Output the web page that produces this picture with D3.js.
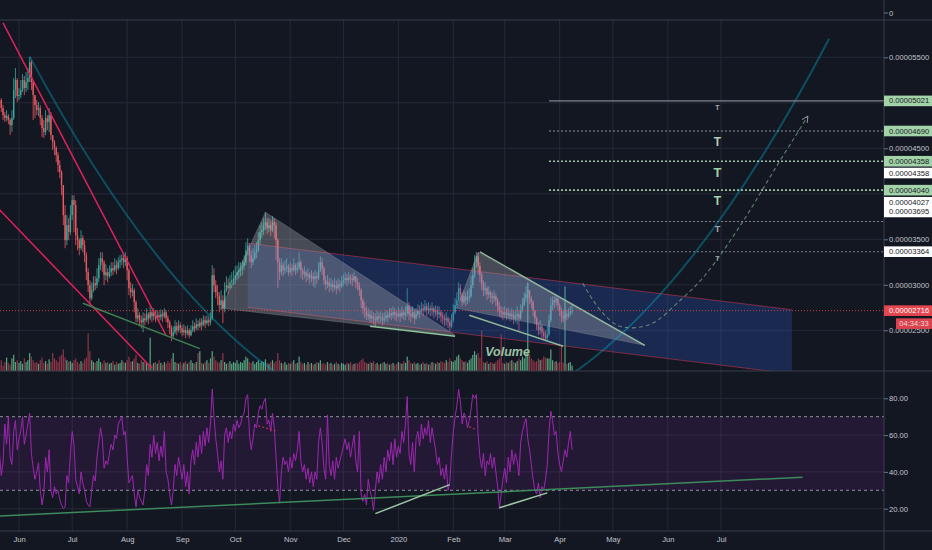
<!DOCTYPE html>
<html><head><meta charset="utf-8">
<script src="https://cdn.jsdelivr.net/npm/d3@7"></script>
<style>
html,body{margin:0;padding:0;background:#131722;overflow:hidden;}
svg{display:block;}
text{font-family:"Liberation Sans",Arial,sans-serif;}
</style></head><body>
<svg id="c" width="932" height="550"></svg>
<script>
// ---------------- DATA ----------------
const startDate = "2019-05-21";   // first daily candle
const firstOpen = 4990;           // prices in 1e-8 units
const closes = [
 5030,4942,4865,4832,4854,4810,4755,4832,5140,5250,5074,
 5085,5140,5250,5162,5228,5272,5448,5228,5085,4975,
 4920,4942,4832,4722,4678,4832,4788,4865,4645,4568,
 4502,4425,4315,4238,4095,3765,3490,3655,3578,3765,
 3930,3875,3545,3490,3402,3512,3435,3325,3138,2995,
 2852,2940,3017,2995,3072,3215,3292,3248,3105,3138,
 3094,3138,3182,3160,3215,3182,3248,3270,3292,3248,
 3292,3160,2962,2918,2940,2808,2632,2665,2610,2588,
 2632,2610,2676,2632,2698,2654,2687,2632,2665,2643,
 2676,2654,2698,2632,2588,2522,2434,2478,2544,2500,
 2555,2522,2478,2500,2467,2500,2445,2500,2544,2522,
 2566,2544,2588,2555,2610,2577,2610,2588,2632,3105,
 2995,2918,2874,2775,2830,2742,2940,2995,2962,3028,
 3050,3072,3105,3138,3160,3182,3204,3248,3380,3435,
 3325,3248,3292,3358,3380,3490,3578,3600,3655,3688,
 3622,3655,3600,3688,3655,3490,3248,3138,3215,3160,
 3182,3204,3138,3182,3160,3215,3160,3182,3248,3160,
 3116,3138,3094,3116,3072,3094,3061,3094,3072,3160,
 3248,3182,3050,3006,3028,2984,3006,2973,2995,2962,
 3006,2984,3028,3050,3072,3050,3083,3072,3050,3094,
 3028,2995,2940,2830,2742,2720,2654,2676,2632,2654,
 2621,2610,2654,2632,2643,2610,2632,2665,2643,2687,
 2665,2698,2676,2654,2687,2654,2698,2665,2687,2764,
 2676,2654,2698,2632,2676,2720,2698,2742,2720,2764,
 2720,2742,2720,2742,2698,2720,2676,2698,2654,2632,
 2610,2632,2588,2544,2610,2698,2775,2830,2962,2896,
 2808,2874,2830,2863,2874,2995,3105,3248,3314,3204,
 3105,3006,2940,2962,2896,2918,2874,2852,2874,2830,
 2764,2720,2698,2676,2698,2665,2687,2654,2676,2632,
 2654,2676,2632,2720,2775,2852,2896,2940,2852,2808,
 2720,2632,2555,2500,2544,2478,2434,2412,2456,2610,
 2775,2830,2808,2852,2775,2720,2654,2632,2676,2654,
 2687,2709,2716
];
const highs = [
 5140,5052,4975,4898,4920,4876,4832,4920,5272,5382,5272,
 5162,5250,5316,5294,5338,5382,5503,5470,5250,5085,
 5030,5008,4975,4865,4810,4920,4865,4942,4898,4645,
 4590,4524,4458,4370,4260,4095,3875,3765,3732,3875,
 3985,3985,3930,3622,3512,3600,3545,3490,3358,3182,
 3050,3028,3094,3094,3182,3292,3358,3358,3270,3226,
 3182,3215,3248,3248,3292,3270,3303,3325,3336,3325,
 3358,3314,3182,3028,3006,2962,2830,2742,2698,2665,
 2698,2687,2742,2698,2764,2720,2742,2720,2720,2709,
 2731,2720,2742,2720,2665,2610,2555,2544,2610,2588,
 2610,2588,2555,2566,2544,2555,2522,2555,2610,2588,
 2632,2610,2632,2632,2665,2654,2665,2654,2698,3215,
 3182,3050,2995,2918,2940,2885,3028,3094,3072,3105,
 3138,3160,3204,3215,3248,3248,3270,3325,3468,3512,
 3457,3380,3402,3435,3468,3578,3655,3688,3732,3798,
 3732,3732,3710,3754,3732,3688,3512,3292,3292,3248,
 3270,3292,3226,3248,3226,3292,3237,3248,3358,3270,
 3182,3204,3160,3182,3138,3160,3138,3160,3138,3248,
 3314,3292,3204,3094,3105,3072,3072,3050,3072,3050,
 3072,3050,3094,3116,3138,3116,3138,3116,3116,3138,
 3094,3072,3028,2962,2852,2808,2764,2742,2720,2720,
 2698,2687,2720,2698,2709,2687,2698,2720,2709,2742,
 2742,2764,2742,2720,2753,2720,2764,2731,2764,2962,
 2808,2742,2764,2720,2742,2786,2775,2808,2786,2830,
 2797,2808,2775,2808,2764,2775,2764,2764,2720,2698,
 2676,2698,2654,2632,2676,2786,2852,2918,3028,3006,
 2918,2940,2918,2940,2962,3094,3182,3325,3358,3358,
 3248,3138,3050,3028,2984,2984,2940,2918,2940,2907,
 2852,2808,2764,2753,2764,2742,2753,2720,2742,2720,
 2720,2764,2720,2786,2852,2918,2984,3028,2940,2874,
 2830,2720,2654,2588,2610,2566,2522,2500,2544,2676,
 2863,2874,2874,2896,2852,2797,2742,2720,2742,2720,
 2742,2764,2775
];
const lows = [
 4942,4898,4810,4788,4799,4766,4645,4678,4810,5052,5008,
 5030,5052,5118,5085,5118,5140,5228,5140,4810,4832,
 4865,4854,4755,4623,4612,4645,4700,4678,4590,4480,
 4425,4348,4238,4172,3985,3655,3402,3435,3490,3545,
 3710,3578,3435,3380,3325,3380,3358,3248,3050,2918,
 2775,2830,2918,2940,2962,3028,3160,3138,2995,3050,
 3028,3072,3094,3105,3138,3116,3160,3182,3215,3182,
 3204,3050,2885,2852,2874,2698,2588,2588,2544,2522,
 2478,2555,2588,2566,2610,2588,2610,2588,2610,2588,
 2610,2588,2632,2588,2522,2456,2379,2412,2456,2445,
 2478,2467,2434,2445,2412,2445,2412,2434,2478,2478,
 2500,2500,2522,2500,2544,2522,2555,2544,2555,2610,
 2918,2852,2775,2698,2720,2577,2698,2918,2896,2940,
 2962,2995,3006,3050,3072,3094,3105,3160,3215,3325,
 3248,3182,3215,3270,3292,3358,3435,3512,3545,3600,
 3556,3578,3534,3578,3512,3270,2962,3050,3105,3094,
 3116,3138,3094,3116,3094,3138,3105,3127,3160,3072,
 3050,3072,3028,3050,3006,3028,2984,2962,3006,3050,
 3138,3105,2995,2940,2962,2918,2940,2918,2940,2896,
 2940,2918,2962,2984,3006,2984,3017,3006,2984,3028,
 2962,2940,2874,2742,2676,2632,2610,2610,2588,2588,
 2566,2544,2588,2577,2588,2555,2577,2599,2588,2632,
 2610,2632,2610,2599,2632,2588,2632,2610,2610,2654,
 2610,2588,2632,2566,2610,2654,2632,2676,2654,2698,
 2654,2676,2654,2665,2632,2654,2610,2632,2588,2566,
 2544,2555,2522,2489,2522,2588,2676,2742,2808,2830,
 2764,2786,2764,2786,2808,2852,2962,3072,3182,3116,
 3028,2940,2874,2885,2830,2852,2808,2786,2808,2764,
 2698,2654,2632,2610,2632,2610,2621,2599,2610,2566,
 2588,2566,2500,2610,2698,2764,2808,2852,2786,2742,
 2654,2566,2500,2445,2456,2412,2390,2379,2390,2434,
 2588,2720,2742,2764,2720,2654,2588,2588,2610,2610,
 2632,2654,2676
];
const volumes = [
 8,12,6,10,15,9,7,14,18,10,12,
 9,11,8,14,10,12,20,16,12,9,
 10,8,12,15,9,11,8,13,10,20,
 14,12,10,16,18,24,15,12,10,11,
 9,12,14,10,8,11,9,13,15,42,
 22,12,10,9,11,14,10,8,12,9,
 10,8,9,11,7,10,8,9,12,10,
 9,12,16,10,11,14,18,9,8,12,
 10,10,9,8,37,7,9,10,8,12,
 9,7,10,8,11,9,14,20,10,9,
 8,10,7,9,11,8,10,12,9,8,
 10,20,22,9,8,10,12,9,14,22,
 16,12,10,9,12,20,10,8,9,11,
 8,10,9,12,8,10,9,12,16,14,
 10,9,11,8,10,12,9,11,10,13,
 9,8,10,12,9,11,20,12,9,8,
 10,7,9,8,10,12,8,9,16,10,
 8,9,7,10,8,9,7,8,10,9,
 12,8,9,7,10,8,9,7,8,10,
 8,7,9,8,7,9,8,10,7,8,
 9,8,10,12,14,10,9,8,10,9,
 11,8,9,7,8,9,10,8,9,7,
 8,9,7,8,10,9,8,11,9,16,
 12,9,8,10,8,9,7,8,10,8,
 9,7,8,10,9,8,10,9,11,10,
 9,12,10,14,11,10,12,16,18,14,
 12,10,11,9,12,14,18,22,18,20,
 15,45,10,9,11,8,10,9,8,10,
 12,14,41,9,8,10,9,11,12,10,
 9,11,14,12,16,14,20,98,18,14,
 12,10,11,14,12,13,16,15,14,14,
 24,12,10,11,9,10,28,9,94,8,
 9,10,6
];
const rsi = [
 50,38,45,66,55,70,48,44,62,68,52,
 58,62,70,55,60,66,72,50,42,36,
 40,45,30,22,28,48,40,52,30,26,
 32,28,30,25,22,20,21,38,34,50,
 62,55,36,32,28,40,34,30,24,22,
 21,30,38,35,48,56,64,58,42,46,
 44,50,55,52,60,58,66,68,70,60,
 62,48,34,36,38,28,21,30,26,24,
 22,30,44,38,55,48,60,50,56,46,
 54,48,62,40,36,28,22,30,44,38,
 48,42,36,44,32,40,28,46,52,44,
 56,48,60,50,62,54,64,56,66,85,
 70,58,50,40,46,36,60,64,56,62,
 58,66,62,68,64,66,70,72,80,82,
 60,52,58,66,64,72,76,74,78,80,
 66,68,62,72,64,48,32,23,40,48,
 44,46,40,48,42,50,46,52,62,46,
 40,44,36,42,34,40,32,40,36,56,
 64,56,42,36,71,44,38,46,36,48,
 42,46,50,54,58,52,56,48,54,60,
 46,40,62,28,24,28,22,36,30,26,
 19,30,40,34,44,36,48,40,52,46,
 56,44,58,48,54,50,62,56,66,81,
 50,44,56,40,58,62,54,66,58,64,
 60,68,56,64,58,52,44,48,38,42,
 36,44,30,34,50,62,70,76,85,78,
 66,72,70,64,68,74,82,80,82,60,
 48,42,50,38,46,44,50,42,48,40,
 32,20,28,36,42,34,48,40,52,44,
 50,46,38,56,62,66,69,58,52,44,
 36,30,28,34,26,32,30,36,44,62,
 73,68,60,62,50,44,40,46,52,48,
 56,62,52
];
const monthTicks = ["2019-06-01","2019-07-01","2019-08-01","2019-09-01","2019-10-01","2019-11-01","2019-12-01",
  "2020-01-01","2020-02-01","2020-03-01","2020-04-01","2020-05-01","2020-06-01","2020-07-01"];
const monthLabels = ["Jun","Jul","Aug","Sep","Oct","Nov","Dec","2020","Feb","Mar","Apr","May","Jun","Jul"];
const priceTicks = [2500,3000,3500,4000,4500,5000,5500];
const hiddenPriceLabels = [4000,5000];   // covered by line tags in the reference
const rsiTicks = [20,40,60,80];
const lastPrice = 2716;
const countdown = "04:34:33";

// drawings (date, value)
const redLineA = [["2019-05-23",5879],["2019-08-23",2443]];
const redLineB = [["2019-05-21",3825],["2019-08-15",2082]];
const arcCurve = [["2019-06-07",5510],["2020-01-19",-2688],["2020-08-31",5703]];
const triangle1 = [["2019-09-23",2742],["2019-10-18",3798],["2020-02-02",2445]];
const triangle2 = [["2020-02-03",2742],["2020-02-15",3358],["2020-05-19",2335]];
const channelTop = [["2019-10-08",3457],["2020-08-10",2726]];
const channelBottom = [["2019-10-08",2753],["2020-08-10",2022]];
const wedgeUpper = [["2020-02-16",3361],["2020-05-19",2335]];
const wedgeLower = [["2020-02-10",2665],["2020-04-03",2324]];
const supportDec = [["2019-12-16",2544],["2020-02-02",2434]];
const supportAug = [["2019-07-07",2797],["2019-09-11",2299]];
const projection = [["2020-04-14",3017],["2020-04-24",2720],["2020-05-05",2544],["2020-05-22",2566],
  ["2020-06-08",2830],["2020-06-22",3105],["2020-07-12",3655],["2020-07-31",4260],["2020-08-19",4854]];
const targetStart = "2020-03-26";
const targetPrices = [5021,4690,4358,4040,3695,3364];
const targetDate = "2020-06-29";
const volumeTextAt = ["2020-02-19",2214];
const rsiTrend = [["2019-05-21",16],["2020-08-16",37.1]];
const rsiDiv1 = [["2019-12-19",17.3],["2020-01-30",33.1]];
const rsiDiv2 = [["2020-02-27",20.5],["2020-03-25",28.6]];
const rsiRed1 = [["2019-10-14",65],["2019-10-24",62.3]];
const rsiRed2 = [["2020-02-10",64.6],["2020-02-14",62.9]];
// axis tags: price, kind
const axisTags = [[5021,"g"],[4690,"g"],[4358,"g"],[4358,"w"],[4040,"g"],[4027,"w"],[3695,"w"],[3364,"w"],[2716,"r"]];

// ---------------- RENDER ----------------
const W = 932, H = 550, AX = 884;
const MT = 20, MB = 371, RB = 531;
const parse = d3.utcParse("%Y-%m-%d");
const svg = d3.select("#c");
const x = d3.scaleUtc().domain([parse("2019-06-01"), parse("2020-07-01")]).range([19, 721]);
const y = d3.scaleLinear().domain([2500, 5500]).range([330.3, 57.3]);
const yv = d3.scaleLinear().domain([0, 100]).range([MB, MB - 90]);
const yr = d3.scaleLinear().domain([20, 80]).range([508.7, 398.3]);
const P = p => [x(parse(p[0])), y(p[1])];
const PR = p => [x(parse(p[0])), yr(p[1])];

svg.append("rect").attr("width", W).attr("height", H).attr("fill", "#131722");
const defs = svg.append("defs");
defs.append("clipPath").attr("id", "cm").append("rect").attr("x", 0).attr("y", MT).attr("width", AX).attr("height", MB - MT);
defs.append("clipPath").attr("id", "cr").append("rect").attr("x", 0).attr("y", MB).attr("width", AX).attr("height", RB - MB);
defs.append("marker").attr("id", "arr").attr("viewBox", "0 0 10 10").attr("refX", 9).attr("refY", 5)
  .attr("markerWidth", 7).attr("markerHeight", 7).attr("orient", "auto")
  .append("path").attr("d", "M1,1 L9,5 L1,9").attr("fill", "none").attr("stroke", "#8a9a94").attr("stroke-width", 1.3);

const gridC = "#252a37";
// vertical grid
svg.append("g").selectAll("line").data(monthTicks).join("line")
  .attr("x1", d => x(parse(d))).attr("x2", d => x(parse(d))).attr("y1", MT).attr("y2", RB)
  .attr("stroke", gridC).attr("stroke-width", 1);
// horizontal grid main
svg.append("g").selectAll("line").data(priceTicks).join("line")
  .attr("x1", 0).attr("x2", AX).attr("y1", d => y(d)).attr("y2", d => y(d)).attr("stroke", gridC);
// RSI grid
svg.append("g").selectAll("line").data(rsiTicks).join("line")
  .attr("x1", 0).attr("x2", AX).attr("y1", d => yr(d)).attr("y2", d => yr(d)).attr("stroke", gridC);

// ---------- main pane ----------
const main = svg.append("g").attr("clip-path", "url(#cm)");
const t0 = parse(startDate);
const bars = closes.map((c, i) => ({
  t: d3.utcDay.offset(t0, i), o: i === 0 ? firstOpen : closes[i - 1], c: c, h: highs[i], l: lows[i], v: volumes[i]
}));
const upC = "#3aa99a", dnC = "#ea5a62";
// volume
main.append("g").selectAll("rect").data(bars).join("rect")
  .attr("x", d => x(d.t) - 0.6).attr("width", 1.2)
  .attr("y", d => yv(d.v)).attr("height", d => MB - yv(d.v))
  .attr("fill", d => d.c >= d.o ? "rgba(110,214,160,0.75)" : "rgba(226,74,98,0.6)");
// candles
main.append("g").selectAll("line").data(bars).join("line")
  .attr("x1", d => x(d.t)).attr("x2", d => x(d.t)).attr("y1", d => y(d.h)).attr("y2", d => y(d.l))
  .attr("stroke", d => d.c >= d.o ? upC : dnC).attr("stroke-width", 0.8);
main.append("g").selectAll("rect").data(bars).join("rect")
  .attr("x", d => x(d.t) - 0.7).attr("width", 1.4)
  .attr("y", d => y(Math.max(d.o, d.c))).attr("height", d => Math.max(0.8, Math.abs(y(d.o) - y(d.c))))
  .attr("fill", d => d.c >= d.o ? upC : dnC);

// channel
const chPoly = [P(channelTop[0]), P(channelTop[1]), P(channelBottom[1]), P(channelBottom[0])];
main.append("polygon").attr("points", chPoly.map(p => p.join(",")).join(" ")).attr("fill", "rgba(52,100,225,0.24)");
[channelTop, channelBottom].forEach(l => {
  main.append("line").attr("x1", P(l[0])[0]).attr("y1", P(l[0])[1]).attr("x2", P(l[1])[0]).attr("y2", P(l[1])[1])
    .attr("stroke", "rgba(205,55,80,0.55)").attr("stroke-width", 1);
});
// triangles
[triangle1, triangle2].forEach(tr => {
  main.append("polygon").attr("points", tr.map(P).map(p => p.join(",")).join(" "))
    .attr("fill", "rgba(180,183,192,0.33)").attr("stroke", "rgba(180,183,192,0.25)").attr("stroke-width", 1);
});
// teal arc
{
  const a = P(arcCurve[0]), c = P(arcCurve[1]), b = P(arcCurve[2]);
  const pth = d3.path(); pth.moveTo(a[0], a[1]); pth.quadraticCurveTo(c[0], c[1], b[0], b[1]);
  main.append("path").attr("d", pth.toString()).attr("fill", "none").attr("stroke", "rgba(0,170,200,0.38)").attr("stroke-width", 2);
}
// red trend lines
[redLineA, redLineB].forEach(l => {
  main.append("line").attr("x1", P(l[0])[0]).attr("y1", P(l[0])[1]).attr("x2", P(l[1])[0]).attr("y2", P(l[1])[1])
    .attr("stroke", "#e0215c").attr("stroke-width", 1.5);
});
// green lines
[[wedgeUpper, "#93b89c", 1.5], [wedgeLower, "#93b89c", 1.5], [supportDec, "#8fc49a", 1.5], [supportAug, "#3f7f52", 1.5]].forEach(([l, col, w]) => {
  main.append("line").attr("x1", P(l[0])[0]).attr("y1", P(l[0])[1]).attr("x2", P(l[1])[0]).attr("y2", P(l[1])[1])
    .attr("stroke", col).attr("stroke-width", w);
});
// target lines
const tStyle = [
  {c: "#80838c", dash: null, w: 1.2, tc: "#a9acb3", fs: 7, dy: 7},
  {c: "#8d9690", dash: "2,2", w: 1.2, tc: "#b7c9ba", fs: 12, dy: 11},
  {c: "#a3c4aa", dash: "2,2", w: 1.6, tc: "#9fd2a8", fs: 13, dy: 11},
  {c: "#9bc3a3", dash: "2,2", w: 1.6, tc: "#a5d6ac", fs: 12, dy: 11},
  {c: "#7f828a", dash: "2,2", w: 1.1, tc: "#a9acb3", fs: 9, dy: 7},
  {c: "#7f828a", dash: "2,2", w: 1.1, tc: "#a0a3aa", fs: 7, dy: 7}
];
targetPrices.forEach((p, i) => {
  const s = tStyle[i];
  main.append("line").attr("x1", x(parse(targetStart))).attr("x2", AX).attr("y1", y(p)).attr("y2", y(p))
    .attr("stroke", s.c).attr("stroke-width", s.w).attr("stroke-dasharray", s.dash);
  main.append("text").attr("x", x(parse(targetDate))).attr("y", y(p) + s.dy).attr("text-anchor", "middle")
    .attr("dominant-baseline", "central").attr("font-size", s.fs).attr("font-weight", "bold").attr("fill", s.tc).text("T");
});
// current price line
main.append("line").attr("x1", 0).attr("x2", AX).attr("y1", y(lastPrice)).attr("y2", y(lastPrice))
  .attr("stroke", "#e8464f").attr("stroke-width", 1).attr("stroke-dasharray", "1,2").attr("opacity", 0.85);
// projection dashed arrow
main.append("path").attr("d", d3.line().curve(d3.curveCatmullRom)(projection.map(P)))
  .attr("fill", "none").attr("stroke", "rgba(120,165,135,0.75)").attr("stroke-width", 1.1)
  .attr("stroke-dasharray", "4,3").attr("marker-end", "url(#arr)");
// Volume label
main.append("text").attr("x", P(volumeTextAt)[0]).attr("y", P(volumeTextAt)[1])
  .attr("font-size", 12.5).attr("font-weight", "bold").attr("font-style", "italic").attr("fill", "#9cc2a6").text("Volume");

// ---------- RSI pane ----------
const rp = svg.append("g").attr("clip-path", "url(#cr)");
rp.append("rect").attr("x", 0).attr("width", AX).attr("y", yr(70)).attr("height", yr(30) - yr(70)).attr("fill", "rgba(156,39,176,0.13)");
[70, 30].forEach(v => rp.append("line").attr("x1", 0).attr("x2", AX).attr("y1", yr(v)).attr("y2", yr(v))
  .attr("stroke", "#8f929b").attr("stroke-dasharray", "3,3").attr("stroke-width", 1));
rp.append("path").attr("d", d3.line().x((d, i) => x(d3.utcDay.offset(t0, i))).y(d => yr(d))(rsi))
  .attr("fill", "none").attr("stroke", "#9c27b0").attr("stroke-width", 1);
[[rsiTrend, "#3d8a5b", 1.5, null], [rsiDiv1, "#9cc7a3", 1.5, null], [rsiDiv2, "#9cc7a3", 1.5, null],
 [rsiRed1, "#b8324a", 1.2, "2,2"], [rsiRed2, "#b8324a", 1.2, "2,2"]].forEach(([l, col, w, dash]) => {
  rp.append("line").attr("x1", PR(l[0])[0]).attr("y1", PR(l[0])[1]).attr("x2", PR(l[1])[0]).attr("y2", PR(l[1])[1])
    .attr("stroke", col).attr("stroke-width", w).attr("stroke-dasharray", dash);
});

// ---------- borders ----------
const bC = "#3a3e4a";
[[0, MT, W, MT], [0, MB, W, MB], [0, RB, W, RB], [AX, 0, AX, H]].forEach(l => {
  svg.append("line").attr("x1", l[0]).attr("y1", l[1]).attr("x2", l[2]).attr("y2", l[3]).attr("stroke", bC).attr("stroke-width", 1);
});

// ---------- axes ----------
const axC = "#c3c6ce", fs = 7.6;
const fmt = p => (p * 1e-8).toFixed(8);
const yAx = svg.append("g").attr("transform", `translate(${AX},0)`)
  .call(d3.axisRight(y).tickValues(priceTicks).tickFormat(fmt).tickSize(4).tickPadding(1));
yAx.select(".domain").remove();
yAx.selectAll("line").attr("stroke", "#70737c");
yAx.selectAll(".tick").filter(d => hiddenPriceLabels.includes(d)).select("text").remove();
yAx.selectAll("text").attr("fill", axC).attr("font-size", fs).attr("font-family", "Liberation Sans");
// top pane 0
svg.append("text").attr("x", AX + 5).attr("y", 13).attr("dominant-baseline", "central").attr("font-size", fs).attr("fill", axC).text("0");
svg.append("line").attr("x1", AX).attr("x2", AX + 4).attr("y1", 13).attr("y2", 13).attr("stroke", "#70737c");

// axis tags
const tagShift = {"4358w": 11.8, "4027w": 10.9, "3695w": -9.6};
axisTags.forEach(([p, k]) => {
  const cy = y(p) + (tagShift[p + k] || 0);
  const bg = k === "g" ? "#a3d4a9" : k === "w" ? "#ffffff" : "#e5464f";
  const tc = k === "r" ? "#ffffff" : "#131722";
  svg.append("rect").attr("x", AX).attr("y", cy - 5.3).attr("width", W - AX).attr("height", 10.6).attr("fill", bg);
  svg.append("text").attr("x", AX + 5).attr("y", cy).attr("dominant-baseline", "central")
    .attr("font-size", fs).attr("fill", tc).text(fmt(p));
});
// countdown
{
  const cy = y(lastPrice) + 13;
  svg.append("rect").attr("x", 896).attr("y", cy - 5.3).attr("width", W - 896).attr("height", 10.6).attr("fill", "#d9434e");
  svg.append("text").attr("x", 914).attr("y", cy).attr("text-anchor", "middle").attr("dominant-baseline", "central")
    .attr("font-size", fs).attr("fill", "#f3d6d8").text(countdown);
}
// RSI axis
const rAx = svg.append("g").attr("transform", `translate(${AX},0)`)
  .call(d3.axisRight(yr).tickValues(rsiTicks).tickFormat(d3.format(".2f")).tickSize(4).tickPadding(1));
rAx.select(".domain").remove();
rAx.selectAll("line").attr("stroke", "#70737c");
rAx.selectAll("text").attr("fill", axC).attr("font-size", fs).attr("font-family", "Liberation Sans");
// time axis
const xAx = svg.append("g").attr("transform", `translate(0,${RB})`)
  .call(d3.axisBottom(x).tickValues(monthTicks.map(parse)).tickFormat((d, i) => monthLabels[i]).tickSize(0).tickPadding(6));
xAx.select(".domain").remove();
xAx.selectAll("text").attr("fill", axC).attr("font-size", fs).attr("font-family", "Liberation Sans");
</script>
</body></html>
